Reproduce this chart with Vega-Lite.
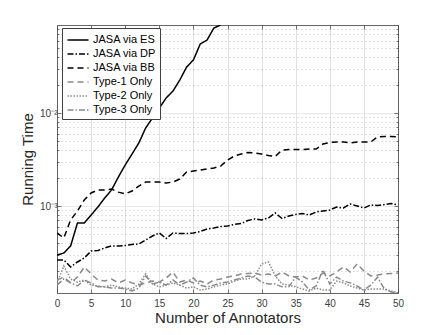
{
  "$schema": "https://vega.github.io/schema/vega-lite/v6.json",
  "width": 341,
  "height": 268,
  "autosize": "none",
  "padding": {"left": 57, "top": 25, "right": 42, "bottom": 42},
  "background": "white",
  "config": {"view": {"stroke": null}, "font": "Liberation Sans"},
  "data": {"values": [
    {"x":0,"es":2.97e-4,"dp":2.63e-4,"bb":5.13e-4,"t1":1.60e-4,"t2":1.49e-4,"t3":1.41e-4},
    {"x":1,"es":3.12e-4,"dp":2.63e-4,"bb":4.53e-4,"t1":1.72e-4,"t2":2.26e-4,"t3":1.64e-4},
    {"x":2,"es":3.72e-4,"dp":2.21e-4,"bb":7.07e-4,"t1":1.49e-4,"t2":1.64e-4,"t3":1.49e-4},
    {"x":3,"es":6.57e-4,"dp":2.50e-4,"bb":8.84e-4,"t1":1.72e-4,"t2":1.52e-4,"t3":1.38e-4},
    {"x":4,"es":6.57e-4,"dp":2.76e-4,"bb":1.16e-3,"t1":2.21e-4,"t2":1.60e-4,"t3":1.60e-4},
    {"x":5,"es":8.0e-4,"dp":3.28e-4,"bb":1.38e-3,"t1":1.86e-4,"t2":1.41e-4,"t3":1.49e-4},
    {"x":6,"es":9.75e-4,"dp":3.32e-4,"bb":1.49e-3,"t1":1.60e-4,"t2":1.38e-4,"t3":1.35e-4},
    {"x":7,"es":1.22e-3,"dp":3.54e-4,"bb":1.49e-3,"t1":1.56e-4,"t2":1.35e-4,"t3":1.35e-4},
    {"x":8,"es":1.49e-3,"dp":3.72e-4,"bb":1.52e-3,"t1":1.64e-4,"t2":1.41e-4,"t3":1.31e-4},
    {"x":9,"es":2.05e-3,"dp":3.72e-4,"bb":1.41e-3,"t1":1.49e-4,"t2":1.35e-4,"t3":1.31e-4},
    {"x":10,"es":2.76e-3,"dp":3.76e-4,"bb":1.35e-3,"t1":1.60e-4,"t2":1.31e-4,"t3":1.28e-4},
    {"x":11,"es":3.62e-3,"dp":3.86e-4,"bb":1.45e-3,"t1":1.49e-4,"t2":1.28e-4,"t3":1.22e-4},
    {"x":12,"es":4.76e-3,"dp":3.90e-4,"bb":1.64e-3,"t1":1.41e-4,"t2":1.45e-4,"t3":1.31e-4},
    {"x":13,"es":6.90e-3,"dp":4.31e-4,"bb":1.81e-3,"t1":1.49e-4,"t2":1.86e-4,"t3":1.77e-4},
    {"x":14,"es":8.84e-3,"dp":4.76e-4,"bb":1.81e-3,"t1":1.56e-4,"t2":1.45e-4,"t3":1.45e-4},
    {"x":15,"es":1.13e-2,"dp":5.13e-4,"bb":1.81e-3,"t1":1.52e-4,"t2":1.35e-4,"t3":1.52e-4},
    {"x":16,"es":1.45e-2,"dp":4.47e-4,"bb":1.77e-3,"t1":1.68e-4,"t2":1.41e-4,"t3":1.41e-4},
    {"x":17,"es":1.72e-2,"dp":5.13e-4,"bb":1.81e-3,"t1":1.95e-4,"t2":1.49e-4,"t3":1.60e-4},
    {"x":18,"es":2.26e-2,"dp":5.06e-4,"bb":1.95e-3,"t1":1.52e-4,"t2":1.41e-4,"t3":1.41e-4},
    {"x":19,"es":3.12e-2,"dp":5.06e-4,"bb":2.32e-3,"t1":1.60e-4,"t2":1.31e-4,"t3":1.52e-4},
    {"x":20,"es":3.72e-2,"dp":5.13e-4,"bb":2.38e-3,"t1":1.49e-4,"t2":1.35e-4,"t3":1.68e-4},
    {"x":21,"es":5.52e-2,"dp":5.32e-4,"bb":2.44e-3,"t1":1.56e-4,"t2":1.25e-4,"t3":1.41e-4},
    {"x":22,"es":6.09e-2,"dp":5.66e-4,"bb":2.50e-3,"t1":1.45e-4,"t2":1.28e-4,"t3":1.35e-4},
    {"x":23,"es":8.20e-2,"dp":5.80e-4,"bb":2.56e-3,"t1":1.60e-4,"t2":1.35e-4,"t3":1.41e-4},
    {"x":24,"es":8.84e-2,"dp":6.02e-4,"bb":2.69e-3,"t1":1.64e-4,"t2":1.41e-4,"t3":1.49e-4},
    {"x":25,"dp":6.09e-4,"bb":3.12e-3,"t1":1.72e-4,"t2":1.45e-4,"t3":1.52e-4},
    {"x":26,"dp":6.33e-4,"bb":3.45e-3,"t1":1.77e-4,"t2":1.56e-4,"t3":1.60e-4},
    {"x":27,"dp":6.48e-4,"bb":3.62e-3,"t1":1.86e-4,"t2":1.64e-4,"t3":1.68e-4},
    {"x":28,"dp":6.99e-4,"bb":3.76e-3,"t1":1.88e-4,"t2":1.64e-4,"t3":1.77e-4},
    {"x":29,"dp":7.25e-4,"bb":3.72e-3,"t1":1.90e-4,"t2":1.77e-4,"t3":1.72e-4},
    {"x":30,"dp":7.07e-4,"bb":3.62e-3,"t1":1.81e-4,"t2":2.38e-4,"t3":1.52e-4},
    {"x":31,"dp":7.43e-4,"bb":3.49e-3,"t1":1.86e-4,"t2":2.50e-4,"t3":1.45e-4},
    {"x":32,"dp":8.41e-4,"bb":3.41e-3,"t1":1.77e-4,"t2":1.77e-4,"t3":1.45e-4},
    {"x":33,"dp":7.34e-4,"bb":4.00e-3,"t1":1.95e-4,"t2":1.45e-4,"t3":1.35e-4},
    {"x":34,"dp":7.81e-4,"bb":4.05e-3,"t1":1.77e-4,"t2":1.41e-4,"t3":1.35e-4},
    {"x":35,"dp":8.10e-4,"bb":4.05e-3,"t1":1.72e-4,"t2":1.35e-4,"t3":1.72e-4},
    {"x":36,"dp":8.31e-4,"bb":4.05e-3,"t1":1.77e-4,"t2":1.28e-4,"t3":1.52e-4},
    {"x":37,"dp":8.0e-4,"bb":4.10e-3,"t1":1.60e-4,"t2":1.22e-4,"t3":1.25e-4},
    {"x":38,"dp":8.62e-4,"bb":4.10e-3,"t1":1.68e-4,"t2":1.31e-4,"t3":1.38e-4},
    {"x":39,"dp":8.84e-4,"bb":4.64e-3,"t1":1.90e-4,"t2":1.25e-4,"t3":2.05e-4},
    {"x":40,"dp":9.06e-4,"bb":4.82e-3,"t1":1.77e-4,"t2":1.25e-4,"t3":1.45e-4},
    {"x":41,"dp":9.75e-4,"bb":4.88e-3,"t1":1.95e-4,"t2":1.56e-4,"t3":1.72e-4},
    {"x":42,"dp":9.52e-4,"bb":4.88e-3,"t1":2.21e-4,"t2":1.49e-4,"t3":1.56e-4},
    {"x":43,"dp":1.051e-3,"bb":4.76e-3,"t1":1.95e-4,"t2":1.38e-4,"t3":1.49e-4},
    {"x":44,"dp":1.0e-3,"bb":4.88e-3,"t1":2.38e-4,"t2":1.31e-4,"t3":1.38e-4},
    {"x":45,"dp":9.52e-4,"bb":4.88e-3,"t1":2.0e-4,"t2":1.25e-4,"t3":1.25e-4},
    {"x":46,"dp":1.025e-3,"bb":4.88e-3,"t1":1.77e-4,"t2":1.28e-4,"t3":1.41e-4},
    {"x":47,"dp":1.0125e-3,"bb":5.52e-3,"t1":1.81e-4,"t2":1.28e-4,"t3":1.72e-4},
    {"x":48,"dp":1.038e-3,"bb":5.59e-3,"t1":1.86e-4,"t2":1.28e-4,"t3":1.28e-4},
    {"x":49,"dp":1.064e-3,"bb":5.59e-3,"t1":1.88e-4,"t2":1.22e-4,"t3":1.19e-4},
    {"x":50,"dp":1.025e-3,"bb":5.52e-3,"t1":1.90e-4,"t2":1.16e-4,"t3":1.16e-4}
  ]},
  "transform": [
    {"fold": ["es", "dp", "bb", "t1", "t2", "t3"], "as": ["series", "time"]},
    {"filter": "isValid(datum.time)"}
  ],
  "layer": [
    {
      "mark": {"type": "line", "strokeWidth": 1.5, "clip": true},
      "encoding": {
        "x": {
          "field": "x", "type": "quantitative",
          "scale": {"domain": [0, 50], "nice": false},
          "axis": {
            "orient": "bottom",
            "values": [0, 5, 10, 15, 20, 25, 30, 35, 40, 45, 50],
            "grid": true, "gridColor": "#e2e2e2", "gridWidth": 1,
            "tickSize": -4, "tickColor": "#404040", "tickWidth": 0.7,
            "domainColor": "#404040", "domainWidth": 0.8,
            "labelFontSize": 10, "labelColor": "#404040", "labelPadding": 9,
            "labelFlush": false,
            "title": "Number of Annotators", "titleFontSize": 15,
            "titleFontWeight": "normal", "titleColor": "#262626", "titlePadding": 2
          }
        },
        "y": {
          "field": "time", "type": "quantitative",
          "scale": {"type": "log", "domain": [0.000116, 0.0884], "nice": false},
          "axis": {
            "orient": "left",
            "values": [0.0002, 0.0003, 0.0004, 0.0005, 0.0006, 0.0007, 0.0008, 0.0009, 0.001, 0.002, 0.003, 0.004, 0.005, 0.006, 0.007, 0.008, 0.009, 0.01, 0.02, 0.03, 0.04, 0.05, 0.06, 0.07, 0.08],
            "labelExpr": "datum.value == 0.001 ? '10⁻³' : (datum.value == 0.01 ? '10⁻²' : '')",
            "grid": true,
            "gridColor": {"condition": {"test": "datum.value == 0.001 || datum.value == 0.01", "value": "#e2e2e2"}, "value": "#c4c4c4"},
            "gridDash": {"condition": {"test": "datum.value == 0.001 || datum.value == 0.01", "value": [1, 0]}, "value": [1, 3]},
            "tickSize": {"condition": {"test": "datum.value == 0.001 || datum.value == 0.01", "value": -4}, "value": -2},
            "tickColor": "#404040", "tickWidth": 0.7,
            "domainColor": "#404040", "domainWidth": 0.8,
            "labelFontSize": 10, "labelColor": "#404040", "labelPadding": 4,
            "title": "Running Time", "titleFontSize": 15,
            "titleFontWeight": "normal", "titleColor": "#262626", "titlePadding": 4
          }
        },
        "color": {
          "field": "series", "type": "nominal",
          "scale": {"domain": ["es", "dp", "bb", "t1", "t2", "t3"], "range": ["#000000", "#000000", "#000000", "#8a8a8a", "#8a8a8a", "#8a8a8a"]},
          "legend": {
            "title": null, "orient": "none", "legendX": 5, "legendY": 3,
            "labelExpr": "{'es': 'JASA via ES', 'dp': 'JASA via DP', 'bb': 'JASA via BB', 't1': 'Type-1 Only', 't2': 'Type-2 Only', 't3': 'Type-3 Only'}[datum.value]",
            "symbolType": "M-1.5,0H1.5", "symbolSize": 196, "symbolStrokeWidth": 1.5,
            "symbolOffset": 4,
            "labelFontSize": 11, "labelColor": "#000000", "labelOffset": 7,
            "rowPadding": 1, "padding": 4,
            "strokeColor": "#404040", "fillColor": "white"
          }
        },
        "strokeDash": {
          "field": "series", "type": "nominal",
          "scale": {"domain": ["es", "dp", "bb", "t1", "t2", "t3"], "range": [[1, 0], [6, 2, 1.5, 2], [6, 4], [6, 4], [1.5, 1.5], [6, 2, 1.5, 2]]},
          "legend": null
        }
      }
    },
    {
      "mark": {"type": "point", "opacity": 0},
      "encoding": {
        "x": {
          "field": "x", "type": "quantitative",
          "axis": {
            "orient": "top", "values": [0, 5, 10, 15, 20, 25, 30, 35, 40, 45, 50],
            "labels": false, "grid": false, "title": null,
            "tickSize": -4, "tickColor": "#404040", "tickWidth": 0.7,
            "domainColor": "#404040", "domainWidth": 0.8
          }
        },
        "y": {
          "field": "time", "type": "quantitative",
          "axis": {
            "orient": "right",
            "values": [0.0002, 0.0003, 0.0004, 0.0005, 0.0006, 0.0007, 0.0008, 0.0009, 0.001, 0.002, 0.003, 0.004, 0.005, 0.006, 0.007, 0.008, 0.009, 0.01, 0.02, 0.03, 0.04, 0.05, 0.06, 0.07, 0.08],
            "labels": false, "grid": false, "title": null,
            "tickSize": {"condition": {"test": "datum.value == 0.001 || datum.value == 0.01", "value": -4}, "value": -2},
            "tickColor": "#404040", "tickWidth": 0.7,
            "domainColor": "#404040", "domainWidth": 0.8
          }
        }
      }
    }
  ],
  "resolve": {"axis": {"x": "independent", "y": "independent"}}
}
